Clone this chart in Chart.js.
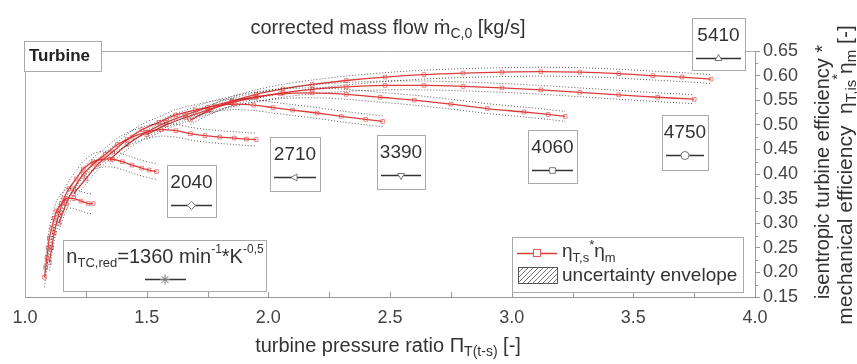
<!DOCTYPE html>
<html>
<head>
<meta charset="utf-8">
<script src="https://cdn.jsdelivr.net/npm/chart.js@4.4.1/dist/chart.umd.min.js"></script>
<style>
  html, body { margin: 0; padding: 0; background: #fff; }
  #wrap { width: 857px; height: 364px; }
</style>
</head>
<body>
<div id="wrap"><canvas id="myChart" width="857" height="364"></canvas></div>
<script>
// speed lines, n_TC,red [min^-1*K^-0.5]
const speeds = [1360, 2040, 2710, 3390, 4060, 4750, 5410];

// turbine pressure ratio per speed line
const pr1360 = [1.08, 1.085, 1.09, 1.095, 1.10, 1.11, 1.12, 1.13, 1.15, 1.17, 1.20, 1.23, 1.26, 1.28];
const pr2040 = [1.10, 1.11, 1.12, 1.14, 1.16, 1.18, 1.21, 1.24, 1.28, 1.32, 1.36, 1.40, 1.44, 1.48, 1.51, 1.54];
const pr2710 = [1.14, 1.17, 1.20, 1.24, 1.28, 1.33, 1.38, 1.44, 1.50, 1.56, 1.62, 1.68, 1.74, 1.80, 1.86, 1.91, 1.95];
const pr3390 = [1.20, 1.25, 1.30, 1.36, 1.42, 1.48, 1.55, 1.62, 1.70, 1.78, 1.86, 1.94, 2.02, 2.10, 2.20, 2.30, 2.40, 2.47];
const pr4060 = [1.35, 1.42, 1.50, 1.58, 1.66, 1.75, 1.85, 1.95, 2.05, 2.18, 2.32, 2.46, 2.60, 2.75, 2.90, 3.05, 3.15, 3.22];
const pr4750 = [1.50, 1.58, 1.66, 1.75, 1.85, 1.95, 2.06, 2.18, 2.32, 2.48, 2.64, 2.80, 2.96, 3.12, 3.28, 3.44, 3.60, 3.75];
const pr5410 = [1.68, 1.76, 1.85, 1.95, 2.06, 2.18, 2.32, 2.48, 2.64, 2.80, 2.96, 3.12, 3.28, 3.44, 3.58, 3.70, 3.82];

// eta_T,s * eta_m per speed line
const eta1360 = [0.19, 0.21, 0.23, 0.25, 0.27, 0.29, 0.31, 0.325, 0.34, 0.35, 0.35, 0.345, 0.34, 0.34];
const eta2040 = [0.22, 0.25, 0.28, 0.32, 0.35, 0.37, 0.39, 0.41, 0.425, 0.43, 0.43, 0.425, 0.418, 0.412, 0.408, 0.405];
const eta2710 = [0.30, 0.34, 0.37, 0.40, 0.42, 0.44, 0.46, 0.475, 0.485, 0.49, 0.488, 0.482, 0.478, 0.475, 0.473, 0.471, 0.47];
const eta3390 = [0.36, 0.39, 0.42, 0.445, 0.47, 0.49, 0.505, 0.52, 0.53, 0.538, 0.542, 0.54, 0.535, 0.53, 0.524, 0.517, 0.511, 0.507];
const eta4060 = [0.43, 0.46, 0.485, 0.505, 0.52, 0.535, 0.548, 0.557, 0.563, 0.565, 0.562, 0.556, 0.55, 0.542, 0.533, 0.526, 0.521, 0.517];
const eta4750 = [0.48, 0.50, 0.515, 0.53, 0.545, 0.556, 0.565, 0.572, 0.577, 0.58, 0.58, 0.578, 0.575, 0.571, 0.566, 0.561, 0.556, 0.552];
const eta5410 = [0.51, 0.53, 0.548, 0.562, 0.573, 0.582, 0.59, 0.597, 0.602, 0.605, 0.607, 0.608, 0.607, 0.604, 0.600, 0.597, 0.593];

// half width of the uncertainty envelope per speed line
const uncertainty = [0.02, 0.016, 0.013, 0.011, 0.01, 0.009, 0.009];

const xTicks = [1.0, 1.5, 2.0, 2.5, 3.0, 3.5, 4.0];
const yTicks = [0.15, 0.20, 0.25, 0.30, 0.35, 0.40, 0.45, 0.50, 0.55, 0.60, 0.65];

const prLines = [pr1360, pr2040, pr2710, pr3390, pr4060, pr4750, pr5410];
const etaLines = [eta1360, eta2040, eta2710, eta3390, eta4060, eta4750, eta5410];

const FONT = '"Liberation Sans", Arial, sans-serif';
const RED = "rgba(215, 40, 40, 0.9)";
const TXT = "#333";

const datasets = [];
prLines.forEach(function (pr, i) {
  const eta = etaLines[i];
  const u = uncertainty[i];
  ["up", "low"].forEach(function (side) {
    datasets.push({
      label: "env " + speeds[i] + " " + side,
      data: pr.map((x, j) => ({ x: x, y: side === "up" ? eta[j] + u : eta[j] - u })),
      borderColor: "rgba(40,40,40,0.75)",
      borderWidth: 1,
      borderDash: [1, 2],
      pointRadius: 0,
      tension: 0.3,
      fill: false,
    });
  });
  datasets.push({
    label: String(speeds[i]),
    data: pr.map((x, j) => ({ x: x, y: eta[j] })),
    borderColor: RED,
    borderWidth: 1.3,
    pointStyle: "rect",
    pointRadius: 2.6,
    pointBorderWidth: 0.8,
    pointBorderColor: "rgba(225, 70, 70, 0.8)",
    pointBackgroundColor: "rgba(255,255,255,0)",
    tension: 0.3,
    fill: false,
  });
});

// draws a run of text pieces: [text, size, dy, weight]
function rich(ctx, parts, x, y, align) {
  let w = 0;
  parts.forEach(function (p) {
    ctx.font = (p[3] || "") + " " + p[1] + "px " + FONT;
    w += ctx.measureText(p[0]).width;
  });
  let cx = align === "center" ? x - w / 2 : x;
  ctx.textAlign = "left";
  ctx.textBaseline = "middle";
  parts.forEach(function (p) {
    ctx.font = (p[3] || "") + " " + p[1] + "px " + FONT;
    ctx.fillText(p[0], cx, y + (p[2] || 0));
    cx += ctx.measureText(p[0]).width;
  });
}

const speedBoxes = [
  { label: "2040", style: "rectRot", rot: 0, x: 167, y: 165, w: 49, h: 52 },
  { label: "2710", style: "triangle", rot: -90, x: 270, y: 137, w: 50, h: 54 },
  { label: "3390", style: "triangle", rot: 180, x: 377, y: 135, w: 48, h: 54 },
  { label: "4060", style: "rect", rot: 0, x: 528, y: 130, w: 49, h: 53 },
  { label: "4750", style: "circle", rot: 0, x: 662, y: 115, w: 46, h: 55 },
  { label: "5410", style: "triangle", rot: 0, x: 692, y: 18, w: 53, h: 52 },
];

function symbol(ctx, style, rot, x, y, r) {
  ctx.save();
  ctx.strokeStyle = "#777";
  ctx.fillStyle = "#fff";
  ctx.lineWidth = 1;
  Chart.helpers.drawPoint(ctx, { pointStyle: style, rotation: rot, radius: r, borderWidth: 1 }, x, y);
  ctx.restore();
}

const decorations = {
  id: "decorations",
  afterDraw(chart) {
    const ctx = chart.ctx;
    const a = chart.chartArea;
    const xs = chart.scales.x;
    const ys = chart.scales.y;
    ctx.save();

    // frame lines left and top
    ctx.strokeStyle = "#aaa";
    ctx.lineWidth = 1;
    ctx.beginPath();
    ctx.moveTo(a.left + 0.5, a.bottom);
    ctx.lineTo(a.left + 0.5, a.top + 0.5);
    ctx.lineTo(a.right, a.top + 0.5);
    ctx.stroke();

    // inner ticks on x axis
    ctx.strokeStyle = "#999";
    ctx.beginPath();
    for (let v = 1.25; v < 4; v += 0.25) {
      const px = Math.round(xs.getPixelForValue(v)) + 0.5;
      ctx.moveTo(px, a.bottom);
      ctx.lineTo(px, a.bottom - 5);
    }
    // minor ticks on y axis
    for (let v = 0.175; v < 0.65; v += 0.05) {
      const py = Math.round(ys.getPixelForValue(v)) + 0.5;
      ctx.moveTo(a.right, py);
      ctx.lineTo(a.right + 3, py);
    }
    ctx.stroke();

    ctx.fillStyle = TXT;
    // top title
    rich(ctx, [["corrected mass flow ", 20], ["\u1E41", 20], ["C,0", 14, 6], [" [kg/s]", 20]], 388, 28, "center");
    // bottom title
    rich(ctx, [["turbine pressure ratio ", 20], ["\u03A0", 20], ["T(t-s)", 14, 6], [" [-]", 20]], 388, 346, "center");

    // right titles
    ctx.save();
    ctx.translate(823, 172);
    ctx.rotate(-Math.PI / 2);
    rich(ctx, [["isentropic turbine efficiency *", 20]], 0, 0, "center");
    ctx.restore();
    ctx.save();
    ctx.translate(846, 175);
    ctx.rotate(-Math.PI / 2);
    rich(ctx, [["mechanical efficiency  ", 21], ["\u03B7", 21], ["T,is", 15, 6], ["*", 15, -8], ["\u03B7", 21], ["m", 15, 6], [" [-]", 21]], 0, 0, "center");
    ctx.restore();

    // Turbine label
    ctx.fillStyle = "#fff";
    ctx.fillRect(24, 41, 77, 30);
    ctx.strokeStyle = "#aaa";
    ctx.strokeRect(24.5, 41.5, 77, 30);
    ctx.fillStyle = "#222";
    rich(ctx, [["Turbine", 17, 0, "bold"]], 29, 56, "left");

    // speed line labels
    speedBoxes.forEach(function (b) {
      ctx.fillStyle = "#fff";
      ctx.fillRect(b.x, b.y, b.w, b.h);
      ctx.strokeStyle = "#aaa";
      ctx.strokeRect(b.x + 0.5, b.y + 0.5, b.w, b.h);
      ctx.fillStyle = TXT;
      rich(ctx, [[b.label, 19]], b.x + b.w / 2, b.y + 18, "center");
      ctx.strokeStyle = "#333";
      ctx.lineWidth = 1.5;
      ctx.beginPath();
      ctx.moveTo(b.x + 4, b.y + 40.5);
      ctx.lineTo(b.x + b.w - 4, b.y + 40.5);
      ctx.stroke();
      ctx.lineWidth = 1;
      symbol(ctx, b.style, b.rot, b.x + b.w / 2, b.y + 40.5, 4);
    });

    // lowest speed label
    ctx.fillStyle = "#fff";
    ctx.fillRect(63, 240, 203, 51);
    ctx.strokeStyle = "#aaa";
    ctx.strokeRect(63.5, 240.5, 203, 51);
    ctx.fillStyle = TXT;
    rich(ctx, [["n", 20], ["TC,red", 13, 6], ["=" + speeds[0] + " min", 20], ["-1", 12, -7], ["*K", 20], ["-0,5", 12, -7]], 165, 257, "center");
    ctx.strokeStyle = "#333";
    ctx.lineWidth = 1.5;
    ctx.beginPath();
    ctx.moveTo(145, 279.5);
    ctx.lineTo(186, 279.5);
    ctx.stroke();
    symbol(ctx, "star", 0, 165, 279.5, 5);

    // legend
    ctx.fillStyle = "#fff";
    ctx.fillRect(512, 237, 231, 55);
    ctx.strokeStyle = "#aaa";
    ctx.lineWidth = 1;
    ctx.strokeRect(512.5, 237.5, 231, 55);
    ctx.strokeStyle = RED;
    ctx.lineWidth = 1.3;
    ctx.beginPath();
    ctx.moveTo(517, 253.5);
    ctx.lineTo(557, 253.5);
    ctx.stroke();
    ctx.strokeStyle = "rgba(225, 70, 70, 0.9)";
    ctx.lineWidth = 1;
    ctx.fillStyle = "#fff";
    ctx.fillRect(533, 249.5, 8, 8);
    ctx.strokeRect(533.5, 249.5, 7, 7);
    ctx.fillStyle = TXT;
    rich(ctx, [["\u03B7", 19], ["T,s", 13, 6], ["*", 13, -7], ["\u03B7", 19], ["m", 13, 6]], 562, 252, "left");
    // hatched swatch
    ctx.save();
    ctx.beginPath();
    ctx.rect(518, 267, 39, 16);
    ctx.clip();
    ctx.strokeStyle = "#777";
    ctx.beginPath();
    for (let k = -20; k < 60; k += 5) {
      ctx.moveTo(518 + k, 283);
      ctx.lineTo(518 + k + 16, 267);
    }
    ctx.stroke();
    ctx.restore();
    ctx.strokeStyle = "#555";
    ctx.strokeRect(518.5, 267.5, 39, 16);
    ctx.fillStyle = TXT;
    rich(ctx, [["uncertainty envelope", 19]], 562, 276, "left");

    ctx.restore();
  },
};

const ctx = document.getElementById("myChart").getContext("2d");
new Chart(ctx, {
  type: "line",
  data: { datasets: datasets },
  options: {
    responsive: false,
    animation: false,
    layout: { padding: { left: 25, top: 51, right: 52, bottom: 37 } },
    plugins: { legend: { display: false }, tooltip: { enabled: false } },
    scales: {
      x: {
        type: "linear",
        min: 1,
        max: 4,
        afterBuildTicks: function (s) {
          s.ticks = xTicks.map((v) => ({ value: v }));
        },
        afterFit: function (s) {
          s.height = 30;
        },
        ticks: {
          font: { family: FONT, size: 18 },
          color: "#444",
          padding: 10,
          maxRotation: 0,
          callback: (v) => Number(v).toFixed(1),
        },
        grid: { display: false, drawTicks: false },
        border: { display: true, color: "#999" },
      },
      y: {
        type: "linear",
        position: "right",
        min: 0.15,
        max: 0.65,
        afterBuildTicks: function (s) {
          s.ticks = yTicks.map((v) => ({ value: v }));
        },
        afterFit: function (s) {
          s.width = 50;
        },
        ticks: {
          font: { family: FONT, size: 18 },
          color: "#444",
          padding: 3,
          callback: (v) => Number(v).toFixed(2),
        },
        grid: { display: true, drawOnChartArea: false, drawTicks: true, tickLength: 5, color: "#999" },
        border: { display: true, color: "#999" },
      },
    },
  },
  plugins: [decorations],
});
</script>
</body>
</html>
